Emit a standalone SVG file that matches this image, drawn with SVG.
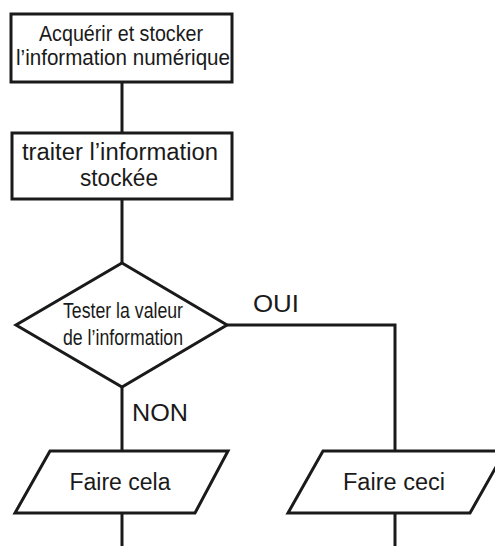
<svg xmlns="http://www.w3.org/2000/svg" width="495" height="546" viewBox="0 0 495 546">
  <style>
    .shape { fill: #ffffff; stroke: #1a1a1a; stroke-width: 3; stroke-linejoin: miter; }
    .link { fill: none; stroke: #1a1a1a; stroke-width: 3; }
    .label { font-family: "Liberation Sans", Arial, sans-serif; fill: #1a1a1a; }
    .box { font-size: 23px; text-anchor: middle; }
    .box.tight { font-size: 21.5px; }
    .cond { font-size: 22px; text-anchor: middle; }
    .act { font-size: 23px; text-anchor: middle; }
    .branch { font-size: 24px; }
  </style>
  <rect width="495" height="546" fill="#ffffff"/>

  <!-- connectors -->
  <g id="connectors">
    <line class="link" x1="122" y1="82" x2="122" y2="133"/>
    <line class="link" x1="122" y1="199" x2="122" y2="263"/>
    <line class="link" x1="122" y1="387" x2="122" y2="451"/>
    <polyline class="link" points="227,325 395,325 395,451"/>
    <line class="link" x1="122" y1="513" x2="122" y2="546"/>
    <line class="link" x1="395" y1="513" x2="395" y2="546"/>
    <text class="label branch" x="253" y="312" textLength="46" lengthAdjust="spacingAndGlyphs">OUI</text>
    <text class="label branch" x="132" y="421" textLength="56" lengthAdjust="spacingAndGlyphs">NON</text>
  </g>

  <!-- acquisition step -->
  <g id="acquerir">
    <rect class="shape" x="11" y="14" width="221" height="68"/>
    <text class="label box tight" x="121" y="41" textLength="164" lengthAdjust="spacingAndGlyphs">Acquérir et stocker</text>
    <text class="label box tight" x="123" y="65" textLength="214" lengthAdjust="spacingAndGlyphs">l’information numérique</text>
  </g>

  <!-- processing step -->
  <g id="traiter">
    <rect class="shape" x="12" y="133" width="220" height="66"/>
    <text class="label box" x="120" y="160" textLength="196" lengthAdjust="spacingAndGlyphs">traiter l’information</text>
    <text class="label box" x="119" y="186" textLength="78" lengthAdjust="spacingAndGlyphs">stockée</text>
  </g>

  <!-- decision -->
  <g id="tester">
    <polygon class="shape" points="122,263 227,325 122,387 16,325"/>
    <text class="label cond" x="123" y="318" textLength="120" lengthAdjust="spacingAndGlyphs">Tester la valeur</text>
    <text class="label cond" x="123" y="345" textLength="120" lengthAdjust="spacingAndGlyphs">de l’information</text>
  </g>

  <!-- NON branch action -->
  <g id="faire-cela">
    <polygon class="shape" points="50,451 228,451 195,513 15,513"/>
    <text class="label act" x="120" y="490" textLength="101" lengthAdjust="spacingAndGlyphs">Faire cela</text>
  </g>

  <!-- OUI branch action -->
  <g id="faire-ceci">
    <polygon class="shape" points="323,451 505,451 470,513 288,513"/>
    <text class="label act" x="394" y="490" textLength="102" lengthAdjust="spacingAndGlyphs">Faire ceci</text>
  </g>
</svg>
